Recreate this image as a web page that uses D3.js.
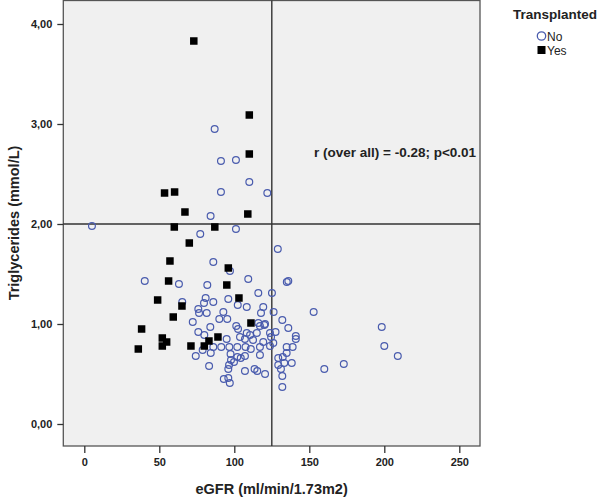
<!DOCTYPE html>
<html><head><meta charset="utf-8">
<script src="https://cdn.jsdelivr.net/npm/d3@7"></script>
<style>body{margin:0;background:#fff}svg{display:block}text{font-family:"Liberation Sans",Arial,sans-serif}</style>
</head><body>
<script>
const xTicks = [0, 50, 100, 150, 200, 250];
const yTicks = [0, 1, 2, 3, 4];
const legendTitle = "Transplanted";
const groups = ["No", "Yes"];
const refX = 125, refY = 2;
const annotation = "r (over all) = -0.28; p<0.01";

// Transplanted = No : [eGFR, TG]
const noPoints = [
 [86.9,2.95],[91.1,2.63],[101.1,2.64],[110,2.42],[91.1,2.32],[122,2.31],[84.2,2.08],[5.1,1.98],[101.1,1.95],[77.3,1.90],[129,1.75],
 [86,1.62],[97.1,1.53],[40.3,1.43],[63.1,1.40],[82,1.39],[109.3,1.45],[135,1.42],[136,1.43],[116,1.31],[125.1,1.31],
 [80.9,1.26],[86,1.22],[96,1.25],[65.3,1.22],[79.8,1.21],[102.3,1.19],[108.3,1.17],[119.3,1.17],[152.9,1.12],
 [76,1.15],[76.5,1.11],[81.6,1.11],[92.7,1.12],[117.8,1.11],[126.2,1.12],[72.3,1.02],[90,1.05],[95.3,1.05],
 [84,0.97],[101.3,0.98],[102.5,0.95],[116,1.01],[120.5,1.00],[117.1,0.98],[132,1.04],[76,0.92],[80,0.89],
 [108.3,0.91],[110.5,0.89],[115,0.91],[123.8,0.91],[127.5,0.92],[120,0.99],[136,0.96],[94.9,0.85],[107.1,0.85],
 [103.8,0.87],[112.5,0.84],[119.3,0.82],[124.5,0.87],[141,0.88],[141,0.85],[126,0.81],[123.8,0.78],
 [86,0.77],[91.3,0.77],[96.7,0.77],[102,0.77],[107.5,0.77],[111,0.75],[117.1,0.77],[134.9,0.77],[138.9,0.77],
 [78.9,0.74],[84.3,0.71],[74.3,0.68],[97.5,0.70],[102,0.67],[104.3,0.66],[107.1,0.68],[117.1,0.69],[99.8,0.62],
 [97.8,0.64],[129.3,0.66],[132.3,0.67],[133.3,0.61],[138.3,0.61],[129.3,0.59],[134.9,0.71],[83.2,0.58],[96.5,0.59],
 [96,0.55],[107.1,0.53],[113.5,0.55],[115.3,0.53],[120.5,0.50],[132,0.48],[131.1,0.55],[93,0.45],[96,0.46],
 [97,0.41],[132,0.37],[160,0.55],[173,0.60],[198.3,0.97],[200,0.78],[209,0.68]
];
// Transplanted = Yes
const yesPoints = [
 [73,3.83],[110,3.09],[110,2.70],[53.5,2.31],[60.2,2.32],[67.1,2.12],[109,2.10],[60,1.97],[87,1.97],[70,1.81],
 [57.1,1.63],[96,1.56],[56.2,1.43],[95,1.39],[48.9,1.24],[103.1,1.26],[65.1,1.18],[59.3,1.07],[111.1,1.01],
 [38.2,0.95],[52,0.86],[54.9,0.82],[52,0.78],[36,0.75],[71.1,0.78],[80,0.78],[83.1,0.83],[89.1,0.87]
];

const W = 598, H = 498;
const svg = d3.select("body").append("svg").attr("width", W).attr("height", H);
const x = d3.scaleLinear().domain([-14, 263.8]).range([63.3, 480]);
const y = d3.scaleLinear().domain([-0.22, 4.24]).range([446, 0]);
const comma = d => d3.format(".2f")(d).replace(".", ",");

// plot background
svg.append("rect").attr("x", x.range()[0]).attr("y", 0.5)
  .attr("width", x.range()[1] - x.range()[0]).attr("height", 446 - 0.5)
  .attr("fill", "#f0f0f0").attr("stroke", "#555").attr("stroke-width", 1.3);

// reference lines
svg.append("line").attr("x1", x(refX)).attr("x2", x(refX)).attr("y1", 0.5).attr("y2", 446)
  .attr("stroke", "#333").attr("stroke-width", 1.4);
svg.append("line").attr("x1", x.range()[0]).attr("x2", x.range()[1]).attr("y1", y(refY)).attr("y2", y(refY))
  .attr("stroke", "#333").attr("stroke-width", 1.4);

// axes
const xAxis = svg.append("g").attr("transform", "translate(0,446)")
  .call(d3.axisBottom(x).tickValues(xTicks).tickSize(7).tickPadding(5).tickFormat(d3.format("d")));
xAxis.select(".domain").remove();
xAxis.selectAll("line").attr("stroke", "#333").attr("stroke-width", 1.3);
xAxis.selectAll("text").attr("font-size", 11).attr("font-weight", "bold").attr("fill", "#222")
  .attr("font-family", "Liberation Sans, Arial, sans-serif");

const yAxis = svg.append("g").attr("transform", "translate(63.3,0)")
  .call(d3.axisLeft(y).tickValues(yTicks).tickSize(6).tickPadding(5).tickFormat(comma));
yAxis.select(".domain").remove();
yAxis.selectAll("line").attr("stroke", "#333").attr("stroke-width", 1.3);
yAxis.selectAll("text").attr("font-size", 11).attr("font-weight", "bold").attr("fill", "#222")
  .attr("font-family", "Liberation Sans, Arial, sans-serif");

// axis titles
svg.append("text").attr("x", 271.6).attr("y", 494).attr("text-anchor", "middle")
  .attr("font-size", 14.5).attr("font-weight", "bold").attr("fill", "#222").text("eGFR (ml/min/1.73m2)");
svg.append("text").attr("transform", "translate(19,223) rotate(-90)").attr("text-anchor", "middle")
  .attr("font-size", 14.5).attr("font-weight", "bold").attr("fill", "#222").text("Triglycerides (mmol/L)");

// points
const blue = "#4a5cae";
svg.append("g").selectAll("circle").data(noPoints).join("circle")
  .attr("cx", d => x(d[0])).attr("cy", d => y(d[1])).attr("r", 3.4)
  .attr("fill", "none").attr("stroke", blue).attr("stroke-width", 1.2);
const s = 7.5;
svg.append("g").selectAll("rect").data(yesPoints).join("rect")
  .attr("x", d => x(d[0]) - s/2).attr("y", d => y(d[1]) - s/2).attr("width", s).attr("height", s)
  .attr("fill", "#000");

// annotation
svg.append("text").attr("x", 314).attr("y", 157).attr("font-size", 13.5).attr("font-weight", "bold")
  .attr("fill", "#222").text(annotation);

// legend
svg.append("text").attr("x", 513).attr("y", 19).attr("font-size", 13.5).attr("font-weight", "bold")
  .attr("fill", "#222").text(legendTitle);
svg.append("circle").attr("cx", 541.5).attr("cy", 36).attr("r", 4.2).attr("fill", "none")
  .attr("stroke", blue).attr("stroke-width", 1.3);
svg.append("rect").attr("x", 537.5).attr("y", 46).attr("width", 8).attr("height", 8).attr("fill", "#000");
svg.append("text").attr("x", 547).attr("y", 40.5).attr("font-size", 12).attr("fill", "#222").text(groups[0]);
svg.append("text").attr("x", 547).attr("y", 54.5).attr("font-size", 12).attr("fill", "#222").text(groups[1]);
</script>
</body></html>
